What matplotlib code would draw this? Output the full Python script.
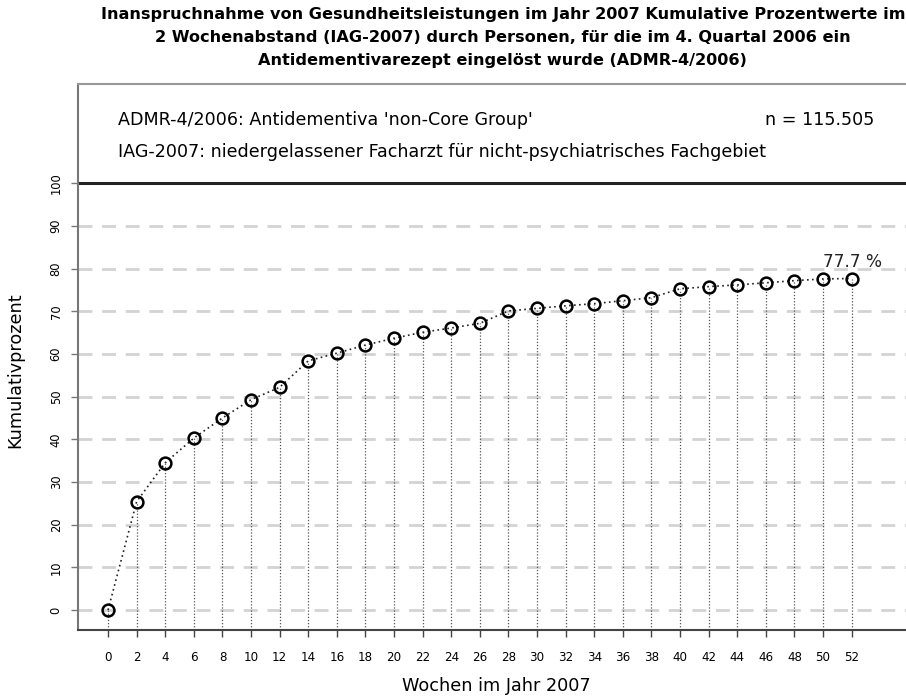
import matplotlib
matplotlib.use("Agg")
import matplotlib.pyplot as plt
import numpy as np

# weeks in 2007 (2-week steps) and cumulative percent
weeks = np.arange(0, 53, 2)
cum_pct = [0.0, 25.4, 34.5, 40.3, 45.0, 49.3, 52.2, 58.4, 60.2, 62.1, 63.7,
           65.1, 66.1, 67.2, 70.1, 70.7, 71.3, 71.8, 72.5, 73.2, 75.3, 75.8,
           76.2, 76.7, 77.2, 77.6, 77.7]
y_ticks = np.arange(0, 101, 10)

title_lines = ["Inanspruchnahme von Gesundheitsleistungen im Jahr 2007 Kumulative Prozentwerte im",
               "2 Wochenabstand (IAG-2007) durch Personen, für die im 4. Quartal 2006 ein",
               "Antidementivarezept eingelöst wurde (ADMR-4/2006)"]
line1 = "ADMR-4/2006: Antidementiva 'non-Core Group'"
line2 = "IAG-2007: niedergelassener Facharzt für nicht-psychiatrisches Fachgebiet"
n_text = "n = 115.505"
end_label = "77.7 %"

plt.rcParams['font.family'] = ['DejaVu Sans']

fig = plt.figure(figsize=(9.06, 6.97), dpi=100)
ax = fig.add_axes([0.0861, 0.0961, 0.9139, 0.7834])

ax.set_xlim(-2.1, 55.8)
ax.set_ylim(-4.7, 123.3)

# grid lines
for yv in y_ticks[:-1]:
    ax.axhline(yv, color='#d3d3d3', lw=2, ls=(0, (5, 3.5)), zorder=1)
ax.axhline(100, color='#222222', lw=2.2, zorder=2)

# vertical drop lines
ax.vlines(weeks, -4.7, cum_pct, colors='#555555', lw=0.9, linestyles=(0, (1, 1.5)), zorder=2)

ax.plot(weeks, cum_pct, color='#222222', lw=1.2, ls=(0, (1, 2)), zorder=3)
ax.plot(weeks, cum_pct, ls='none', marker='o', ms=8.5, mfc='none', mec='black', mew=1.8, zorder=4)

ax.text(weeks[-1] + 0.05, cum_pct[-1] + 3.8, end_label, ha='center', va='center', fontsize=12.2, color='#222222')

ax.text(0.7, 114.8, line1, ha='left', va='center', fontsize=12.6)
ax.text(0.7, 107.3, line2, ha='left', va='center', fontsize=12.6)
ax.text(53.6, 114.8, n_text, ha='right', va='center', fontsize=12.6)

ax.set_xticks(weeks)
ax.set_xticklabels([str(w) for w in weeks], fontsize=8.6)
ax.set_yticks(y_ticks)
ax.set_yticklabels([str(v) for v in y_ticks], fontsize=8.3, rotation=90, va='center')
ax.tick_params(axis='x', length=5, width=1, color='#444444', pad=10)
ax.tick_params(axis='y', length=5, width=1, color='#777777', pad=6)

ax.spines['right'].set_visible(False)
ax.spines['top'].set_color('#999999')
ax.spines['top'].set_linewidth(1.5)
ax.spines['left'].set_color('#777777')
ax.spines['left'].set_linewidth(1.5)
ax.spines['bottom'].set_color('#444444')
ax.spines['bottom'].set_linewidth(1.5)

ax.set_ylabel("Kumulativprozent", fontsize=12.7)
ax.yaxis.set_label_coords(-0.065, 0.476)
ax.set_xlabel("Wochen im Jahr 2007", fontsize=12.7)
ax.xaxis.set_label_coords(0.505, -0.086)

# title, one line at a time (centres at about 15, 37.5, 60 px from the top)
for i, t in enumerate(title_lines):
    fig.text(0.555, 1 - (15 + 22.5 * i) / 697, t, ha='center', va='center',
             fontsize=11.6, fontweight='bold')

fig.savefig("out.png", dpi=100)
